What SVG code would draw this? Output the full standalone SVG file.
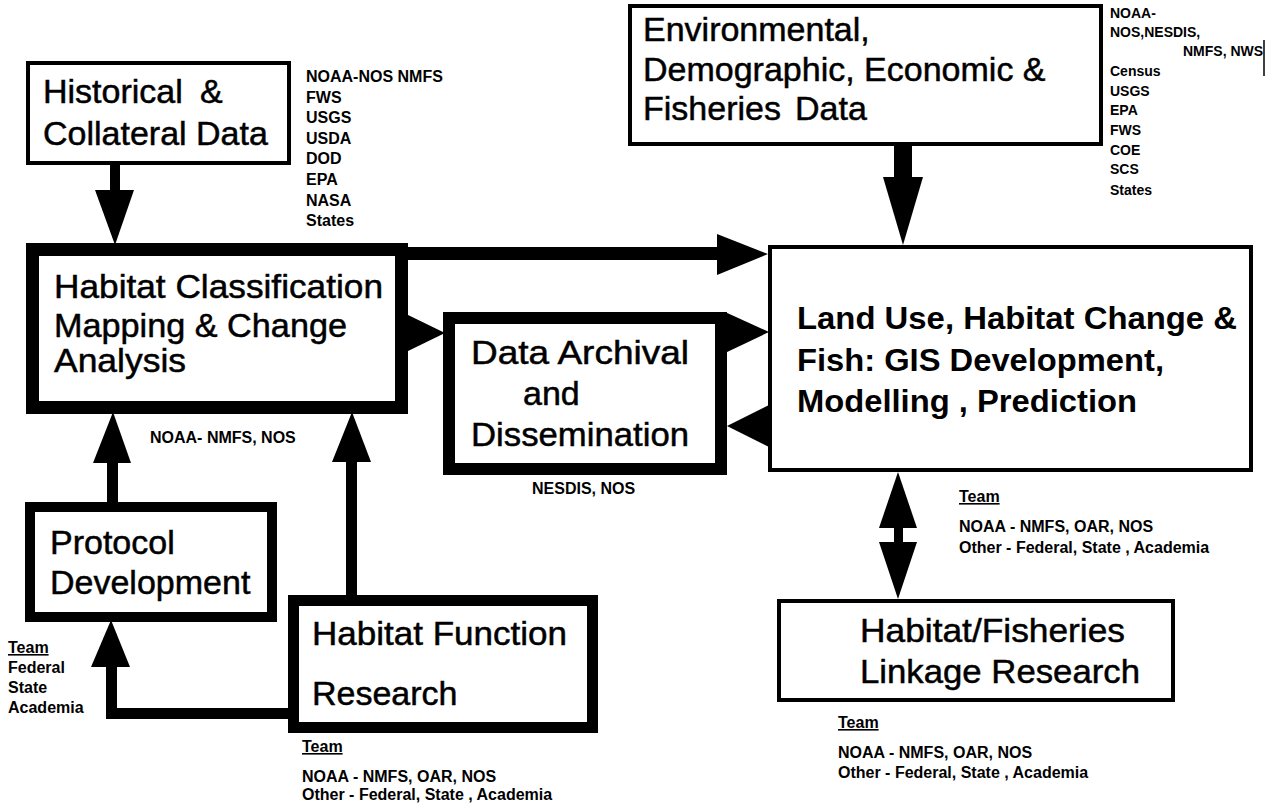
<svg xmlns="http://www.w3.org/2000/svg" width="1269" height="806" viewBox="0 0 1269 806">
<style>
.bg{fill:#fff}
.box{fill:#fff;stroke:#000}
.big{font-family:"Liberation Sans",Arial,sans-serif;font-size:34px;fill:#000;stroke:#000;stroke-width:0.5}
.bigb{font-family:"Liberation Sans",Arial,sans-serif;font-size:31px;font-weight:bold;fill:#000}
.sm{font-family:"Liberation Sans",Arial,sans-serif;font-size:16px;font-weight:bold;fill:#000}
.xs{font-family:"Liberation Sans",Arial,sans-serif;font-size:14px;font-weight:bold;fill:#000}
.ul{text-decoration:underline}
.ar{fill:#000}
</style>
<rect class="bg" x="0" y="0" width="1269" height="806"/>
<g id="connectors">
  <rect class="ar" x="110" y="163" width="10" height="28"/>
  <polygon class="ar" points="95,190 134,190 115,245"/>
  <rect class="ar" x="894" y="144" width="18" height="35"/>
  <polygon class="ar" points="883,177 923,177 903,245"/>
  <rect class="ar" x="405" y="247" width="314" height="13"/>
  <polygon class="ar" points="717,234 717,275 768,254"/>
  <polygon class="ar" points="406,314 406,352 445,333"/>
  <polygon class="ar" points="725,312 725,353 769,332"/>
  <polygon class="ar" points="769,405 769,447 727,426"/>
  <polygon class="ar" points="879,528 917,528 898,472"/>
  <rect class="ar" x="894" y="526" width="9" height="18"/>
  <polygon class="ar" points="879,542 917,542 898,599"/>
  <rect class="ar" x="107" y="461" width="11" height="43"/>
  <polygon class="ar" points="93,463 131,463 113,412"/>
  <rect class="ar" x="346" y="460" width="11" height="137"/>
  <polygon class="ar" points="332,462 371,462 352,412"/>
  <polygon class="ar" points="91,667 130,667 111,620"/>
  <rect class="ar" x="106" y="665" width="11" height="54"/>
  <rect class="ar" x="106" y="708" width="184" height="11"/>
</g>
<g id="historical">
  <rect class="box" x="28" y="63" width="261" height="100" stroke-width="4"/>
  <text class="big" x="43" y="103" font-size="33">Historical<tspan x="200">&amp;</tspan></text>
  <text class="big" x="43" y="145" font-size="33">Collateral Data</text>
</g>
<g id="historical-agencies">
  <text class="sm" x="306" y="82">NOAA-NOS NMFS</text>
  <text class="sm" x="306" y="103">FWS</text>
  <text class="sm" x="306" y="123">USGS</text>
  <text class="sm" x="306" y="144">USDA</text>
  <text class="sm" x="306" y="164">DOD</text>
  <text class="sm" x="306" y="185">EPA</text>
  <text class="sm" x="306" y="206">NASA</text>
  <text class="sm" x="306" y="226">States</text>
</g>
<g id="environmental">
  <rect class="box" x="630" y="6" width="471" height="138" stroke-width="4"/>
  <text class="big" x="643" y="41">Environmental,</text>
  <text class="big" x="643" y="81">Demographic, Economic &amp;</text>
  <text class="big" x="643" y="120">Fisheries<tspan x="795">Data</tspan></text>
</g>
<g id="environmental-agencies">
  <text class="xs" x="1110" y="18">NOAA-</text>
  <text class="xs" x="1110" y="37">NOS,NESDIS,</text>
  <text class="xs" x="1183" y="56">NMFS, NWS</text>
  <line x1="1264" y1="40" x2="1264" y2="76" stroke="#000" stroke-width="1.5"/>
  <text class="xs" x="1110" y="76">Census</text>
  <text class="xs" x="1110" y="96">USGS</text>
  <text class="xs" x="1110" y="115">EPA</text>
  <text class="xs" x="1110" y="135">FWS</text>
  <text class="xs" x="1110" y="155">COE</text>
  <text class="xs" x="1110" y="174">SCS</text>
  <text class="xs" x="1110" y="195">States</text>
</g>
<g id="classification">
  <rect class="box" x="32.5" y="249.5" width="369" height="158" stroke-width="13"/>
  <text class="big" x="54" y="298" font-size="35" textLength="329" lengthAdjust="spacingAndGlyphs">Habitat Classification</text>
  <text class="big" x="54" y="337" font-size="35" textLength="293" lengthAdjust="spacingAndGlyphs">Mapping &amp; Change</text>
  <text class="big" x="54" y="372" font-size="35" textLength="132" lengthAdjust="spacingAndGlyphs">Analysis</text>
  <text class="sm" x="150" y="443">NOAA- NMFS, NOS</text>
</g>
<g id="archival">
  <rect class="box" x="449" y="318" width="272" height="151" stroke-width="12"/>
  <text class="big" x="471" y="364" font-size="35" textLength="218" lengthAdjust="spacingAndGlyphs">Data Archival</text>
  <text class="big" x="523" y="405" font-size="35">and</text>
  <text class="big" x="471" y="446" font-size="35" textLength="218" lengthAdjust="spacingAndGlyphs">Dissemination</text>
  <text class="sm" x="532" y="494">NESDIS, NOS</text>
</g>
<g id="landuse">
  <rect class="box" x="770" y="247" width="481" height="223" stroke-width="4"/>
  <text class="bigb" x="797" y="329" textLength="440" lengthAdjust="spacingAndGlyphs">Land Use, Habitat Change &amp;</text>
  <text class="bigb" x="797" y="371" textLength="367" lengthAdjust="spacingAndGlyphs">Fish: GIS Development,</text>
  <text class="bigb" x="797" y="412" textLength="340" lengthAdjust="spacingAndGlyphs">Modelling , Prediction</text>
  <text class="sm ul" x="959" y="502">Team</text>
  <text class="sm" x="959" y="532">NOAA - NMFS, OAR, NOS</text>
  <text class="sm" x="959" y="553">Other - Federal, State , Academia</text>
</g>
<g id="linkage">
  <rect class="box" x="779" y="601" width="394" height="99" stroke-width="4"/>
  <text class="big" x="860" y="642" font-size="35" textLength="265" lengthAdjust="spacingAndGlyphs">Habitat/Fisheries</text>
  <text class="big" x="860" y="683" font-size="35" textLength="280" lengthAdjust="spacingAndGlyphs">Linkage Research</text>
  <text class="sm ul" x="838" y="728">Team</text>
  <text class="sm" x="838" y="758">NOAA - NMFS, OAR, NOS</text>
  <text class="sm" x="838" y="778">Other - Federal, State , Academia</text>
</g>
<g id="protocol">
  <rect class="box" x="30" y="507" width="242" height="110" stroke-width="10"/>
  <text class="big" x="50" y="554">Protocol</text>
  <text class="big" x="50" y="594">Development</text>
  <text class="sm ul" x="8" y="653">Team</text>
  <text class="sm" x="8" y="673">Federal</text>
  <text class="sm" x="8" y="693">State</text>
  <text class="sm" x="8" y="713">Academia</text>
</g>
<g id="function">
  <rect class="box" x="293.5" y="600.5" width="299" height="127" stroke-width="11"/>
  <text class="big" x="312" y="645" font-size="35" textLength="255" lengthAdjust="spacingAndGlyphs">Habitat Function</text>
  <text class="big" x="312" y="705" font-size="35">Research</text>
  <text class="sm ul" x="302" y="752">Team</text>
  <text class="sm" x="302" y="782">NOAA - NMFS, OAR, NOS</text>
  <text class="sm" x="302" y="800">Other - Federal, State , Academia</text>
</g>
</svg>
